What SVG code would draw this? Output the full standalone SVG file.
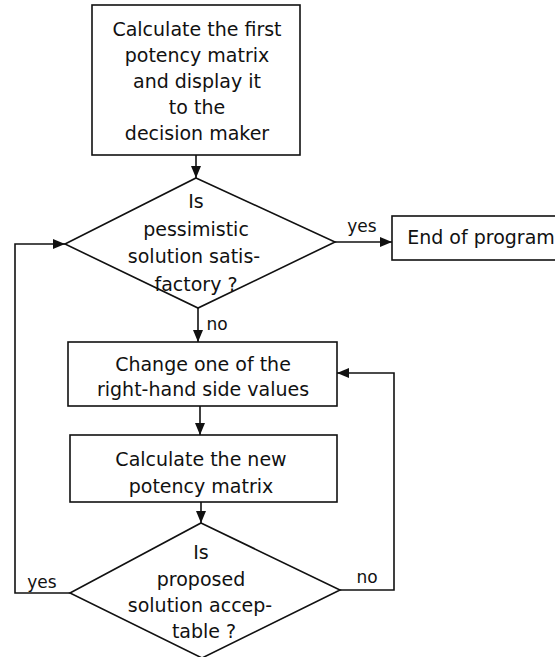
<svg xmlns="http://www.w3.org/2000/svg" width="555" height="657" viewBox="0 0 555 657">
<defs>
<marker id="ah" viewBox="0 0 12 10" refX="12" refY="5" markerWidth="12" markerHeight="10" markerUnits="userSpaceOnUse" orient="auto">
<path d="M0,0 L12,5 L0,10 Z" fill="#111"/>
</marker>
</defs>
<style>
.n{fill:#fff;stroke:#111;stroke-width:1.6}
.c{fill:none;stroke:#111;stroke-width:1.6;marker-end:url(#ah)}
text{font-family:"DejaVu Sans",sans-serif;font-size:19px;fill:#111;text-anchor:middle}
.lb{font-size:17px}
</style>
<rect width="555" height="657" fill="#fff"/>
<g id="connectors">
<path class="c" d="M196,155 V178"/>
<path class="c" d="M335,242 H392"/>
<path class="c" d="M198,308 V342"/>
<path class="c" d="M200,406 V435"/>
<path class="c" d="M201,502 V523"/>
<path class="c" d="M70,593 H15 V244 H65"/>
<path class="c" d="M340,590 H394 V373 H337"/>
<text class="lb" x="362" y="232">yes</text>
<text class="lb" x="217" y="330">no</text>
<text class="lb" x="42" y="588">yes</text>
<text class="lb" x="367" y="583">no</text>
</g>
<g id="start">
<rect class="n" x="92" y="5" width="208" height="150"/>
<text x="197" y="36">Calculate the first</text>
<text x="197" y="62">potency matrix</text>
<text x="197" y="88">and display it</text>
<text x="197" y="114">to the</text>
<text x="197" y="140">decision maker</text>
</g>
<g id="decision1">
<path class="n" d="M196,178 L335,242 L198,308 L65,244 Z"/>
<text x="196" y="208">Is</text>
<text x="196" y="236">pessimistic</text>
<text x="194" y="263">solution satis-</text>
<text x="196" y="291">factory ?</text>
</g>
<g id="end">
<rect class="n" x="392" y="216" width="180" height="44"/>
<text x="481" y="244">End of program</text>
</g>
<g id="change">
<rect class="n" x="68" y="342" width="269" height="64"/>
<text x="203" y="371">Change one of the</text>
<text x="203" y="396">right-hand side values</text>
</g>
<g id="calc">
<rect class="n" x="70" y="435" width="267" height="67"/>
<text x="201" y="466">Calculate the new</text>
<text x="201" y="493">potency matrix</text>
</g>
<g id="decision2">
<path class="n" d="M201,523 L340,590 L202,658 L70,593 Z"/>
<text x="201" y="559">Is</text>
<text x="201" y="586">proposed</text>
<text x="200" y="612">solution accep-</text>
<text x="204" y="638">table ?</text>
</g>
</svg>
